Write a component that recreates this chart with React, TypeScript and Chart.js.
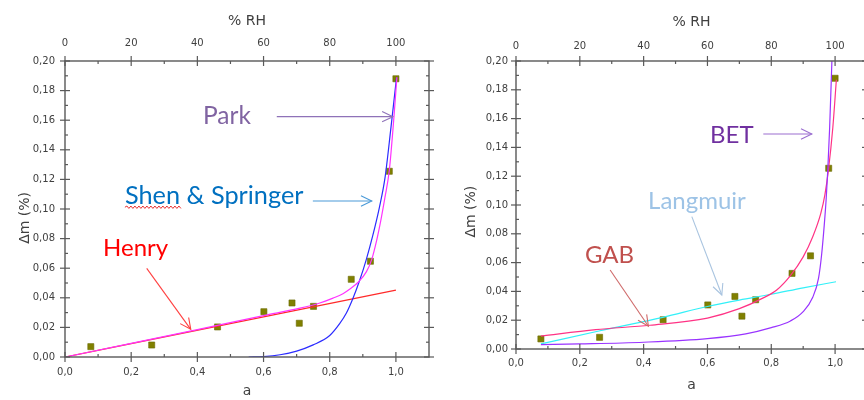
import React, { useEffect, useRef } from 'react';
import { Chart, registerables } from 'chart.js';

Chart.register(...registerables);

// ---- measured data (water activity a vs mass gain Δm %) ----
const A_OBS = [0.078, 0.262, 0.461, 0.601, 0.686, 0.708, 0.751, 0.865, 0.923, 0.98, 1.0];
const M_OBS = [0.007, 0.0081, 0.0203, 0.0306, 0.0365, 0.0228, 0.0342, 0.0525, 0.0647, 0.1255, 0.188];

// ---- left panel models ----
const HENRY_A = [0, 1.0];
const HENRY_M = [0, 0.0452];

const PARK_A = [0, 0.2, 0.4, 0.6, 0.71, 0.77, 0.81, 0.84, 0.86, 0.886, 0.911, 0.927, 0.942, 0.955, 0.967, 0.98, 0.994, 1.003];
const PARK_M = [0, 0.0092, 0.0185, 0.028, 0.033, 0.0365, 0.0398, 0.0428, 0.0458, 0.0505, 0.0577, 0.066, 0.079, 0.093, 0.108, 0.126, 0.162, 0.189];

const SHEN_A = [0.555, 0.6, 0.65, 0.7, 0.75, 0.8, 0.83, 0.85, 0.87, 0.89, 0.91, 0.93, 0.95, 0.967, 0.985, 1.002];
const SHEN_M = [0, 0.0003, 0.0015, 0.004, 0.0082, 0.0145, 0.0225, 0.0295, 0.0395, 0.0515, 0.0655, 0.082, 0.101, 0.121, 0.155, 0.189];

// ---- right panel models ----
const LANG_A = [0.078, 0.26, 0.46, 0.6, 0.7, 0.8, 0.9, 1.003];
const LANG_M = [0.0035, 0.0125, 0.022, 0.0295, 0.034, 0.038, 0.0425, 0.0467];

const GAB_A = [0.078, 0.25, 0.42, 0.6, 0.7, 0.775, 0.817, 0.86, 0.9, 0.93, 0.955, 0.968, 0.979, 0.993, 1.004];
const GAB_M = [0.009, 0.0135, 0.0165, 0.0215, 0.028, 0.0355, 0.041, 0.051, 0.064, 0.078, 0.094, 0.107, 0.124, 0.154, 0.187];

const BET_A = [0.078, 0.2, 0.4, 0.6, 0.72, 0.8, 0.86, 0.9, 0.93, 0.948, 0.958, 0.966, 0.972, 0.977, 0.983, 0.99];
const BET_M = [0.003, 0.0035, 0.0047, 0.0072, 0.0105, 0.0148, 0.0195, 0.026, 0.036, 0.049, 0.066, 0.086, 0.104, 0.124, 0.154, 0.2];

// ---- ticks ----
const Y_TICKS = [0, 0.02, 0.04, 0.06, 0.08, 0.1, 0.12, 0.14, 0.16, 0.18, 0.2];
const Y_MINOR = [0.01, 0.03, 0.05, 0.07, 0.09, 0.11, 0.13, 0.15, 0.17, 0.19];
const A_TICKS = [0, 0.2, 0.4, 0.6, 0.8, 1.0];
const A_MINOR = [0.1, 0.3, 0.5, 0.7, 0.9];
const RH_TICKS = [0, 20, 40, 60, 80, 100];
const RH_MINOR = [10, 30, 50, 70, 90];

const pts = (xs: number[], ys: number[]) => xs.map((x, i) => ({ x, y: ys[i] }));

const AXIS_COLOR = '#595959';

const framePlugin = {
  id: 'frame',
  afterDatasetsDraw(chart: any) {
    const { ctx, chartArea, scales } = chart;
    const { left, right, top, bottom } = chartArea;
    ctx.save();
    ctx.strokeStyle = AXIS_COLOR;
    ctx.lineWidth = 1.4;
    ctx.strokeRect(left, top, right - left, bottom - top);
    ctx.lineWidth = 1.2;
    const seg = (x1: number, y1: number, x2: number, y2: number) => {
      ctx.beginPath();
      ctx.moveTo(x1, y1);
      ctx.lineTo(x2, y2);
      ctx.stroke();
    };
    const MAJ = 5;
    const MIN = 3;
    Y_TICKS.forEach((v) => {
      const p = scales.y.getPixelForValue(v);
      seg(left - MAJ, p, left + MAJ, p);
      seg(right - MAJ, p, right + MAJ, p);
    });
    Y_MINOR.forEach((v) => {
      const p = scales.y.getPixelForValue(v);
      seg(left, p, left + MIN, p);
      seg(right - MIN, p, right, p);
    });
    A_TICKS.forEach((v) => {
      const p = scales.x.getPixelForValue(v);
      seg(p, bottom - MAJ, p, bottom + MAJ);
    });
    A_MINOR.forEach((v) => {
      const p = scales.x.getPixelForValue(v);
      seg(p, bottom - MIN, p, bottom);
    });
    RH_TICKS.forEach((v) => {
      const p = scales.x2.getPixelForValue(v);
      seg(p, top - MAJ, p, top + MAJ);
    });
    RH_MINOR.forEach((v) => {
      const p = scales.x2.getPixelForValue(v);
      seg(p, top, p, top + MIN);
    });
    ctx.restore();
  },
};

const notesPlugin = {
  id: 'notes',
  afterDraw(chart: any, _args: any, opts: any) {
    const { ctx, scales } = chart;
    const X = (a: number) => scales.x.getPixelForValue(a);
    const Y = (m: number) => scales.y.getPixelForValue(m);
    ctx.save();
    (opts.texts || []).forEach((t: any) => {
      ctx.font = `${t.size || 24}px Lato, "Open Sans", sans-serif`;
      ctx.fillStyle = t.color;
      ctx.textAlign = 'left';
      ctx.textBaseline = 'alphabetic';
      ctx.fillText(t.text, X(t.a), Y(t.m));
    });
    (opts.arrows || []).forEach((ar: any) => {
      const x1 = X(ar.a1), y1 = Y(ar.m1), x2 = X(ar.a2), y2 = Y(ar.m2);
      ctx.strokeStyle = ar.color;
      ctx.lineWidth = 1.1;
      ctx.beginPath();
      ctx.moveTo(x1, y1);
      ctx.lineTo(x2, y2);
      ctx.stroke();
      const ang = Math.atan2(y2 - y1, x2 - x1);
      const L = 12, W = 0.45;
      ctx.beginPath();
      ctx.moveTo(x2 - L * Math.cos(ang - W), y2 - L * Math.sin(ang - W));
      ctx.lineTo(x2, y2);
      ctx.lineTo(x2 - L * Math.cos(ang + W), y2 - L * Math.sin(ang + W));
      ctx.stroke();
    });
    (opts.squiggles || []).forEach((s: any) => {
      const x1 = X(s.a1), x2 = X(s.a2), y = Y(s.m);
      ctx.strokeStyle = '#e83030';
      ctx.lineWidth = 1;
      ctx.beginPath();
      let up = true;
      ctx.moveTo(x1, y);
      for (let x = x1 + 2; x <= x2; x += 2) {
        ctx.lineTo(x, y + (up ? -1.2 : 1.2));
        up = !up;
      }
      ctx.stroke();
    });
    ctx.restore();
  },
};

type Layout = {
  yWidth: number; topH: number; bottomH: number; padRight: number;
  yPad: number; bottomPad: number; topPad: number;
  aTitlePad: number; rhTitlePad: number; yTitlePad: number; yTitle: string;
};

const tickFont = { family: '"DejaVu Sans", sans-serif', size: 10 };
const titleFont = { family: '"DejaVu Sans", sans-serif', size: 14 };

function buildConfig(datasets: any[], layout: Layout, notes: any) {
  return {
    type: 'scatter',
    data: { datasets },
    options: {
      animation: false,
      responsive: false,
      events: [],
      layout: { padding: { left: 0, top: 0, bottom: 0, right: layout.padRight } },
      plugins: { legend: { display: false }, tooltip: { enabled: false }, notes },
      scales: {
        x: {
          type: 'linear', position: 'bottom', min: 0, max: 1.1,
          afterBuildTicks: (s: any) => { s.ticks = A_TICKS.map((value) => ({ value })); },
          afterFit: (s: any) => { s.height = layout.bottomH; },
          grid: { display: false, drawTicks: false },
          border: { display: false },
          ticks: {
            font: tickFont, color: '#404040', padding: layout.bottomPad, maxRotation: 0,
            callback: (v: number) => v.toFixed(1).replace('.', ','),
          },
          title: { display: true, text: 'a', font: titleFont, color: '#404040', padding: { top: 0, bottom: layout.aTitlePad } },
        },
        x2: {
          type: 'linear', position: 'top', min: 0, max: 110,
          afterBuildTicks: (s: any) => { s.ticks = RH_TICKS.map((value) => ({ value })); },
          afterFit: (s: any) => { s.height = layout.topH; },
          grid: { display: false, drawTicks: false },
          border: { display: false },
          ticks: { font: tickFont, color: '#404040', padding: layout.topPad, maxRotation: 0, callback: (v: number) => String(v) },
          title: { display: true, text: '% RH', font: titleFont, color: '#404040', padding: { top: layout.rhTitlePad, bottom: 0 } },
        },
        y: {
          type: 'linear', position: 'left', min: 0, max: 0.2,
          afterBuildTicks: (s: any) => { s.ticks = Y_TICKS.map((value) => ({ value })); },
          afterFit: (s: any) => { s.width = layout.yWidth; },
          grid: { display: false, drawTicks: false },
          border: { display: false },
          ticks: { font: tickFont, color: '#404040', padding: layout.yPad, callback: (v: number) => v.toFixed(2).replace('.', ',') },
          title: { display: true, text: layout.yTitle, font: titleFont, color: '#404040', padding: { top: layout.yTitlePad, bottom: 0 } },
        },
      },
    },
    plugins: [framePlugin, notesPlugin],
  };
}

const curve = (xs: number[], ys: number[], color: string) => ({
  data: pts(xs, ys),
  showLine: true,
  borderColor: color,
  backgroundColor: color,
  borderWidth: 1.2,
  pointRadius: 0,
  cubicInterpolationMode: 'monotone',
  fill: false,
});

const observed = () => ({
  data: pts(A_OBS, M_OBS),
  showLine: false,
  pointStyle: 'rect',
  pointRadius: 4.3,
  backgroundColor: '#808000',
  borderColor: '#6a6a00',
  borderWidth: 0.6,
});

const LEFT_LAYOUT: Layout = {
  yWidth: 65, topH: 61, bottomH: 43, padRight: 11,
  yPad: 10, bottomPad: 9, topPad: 12,
  aTitlePad: 0, rhTitlePad: 13, yTitlePad: 16.6, yTitle: 'Δm (%)    ',
};
const RIGHT_LAYOUT: Layout = {
  yWidth: 76, topH: 61, bottomH: 51, padRight: 13,
  yPad: 8, bottomPad: 8, topPad: 9,
  aTitlePad: 6.6, rhTitlePad: 14.3, yTitlePad: 23.3, yTitle: 'Δm (%)   ',
};

const LEFT_NOTES = {
  texts: [
    { text: 'Park', a: 0.417, m: 0.1574, color: '#8064a2', size: 24.5 },
    { text: 'Shen & Springer', a: 0.181, m: 0.1034, color: '#0070c0', size: 25.3 },
    { text: 'Henry', a: 0.115, m: 0.0682, color: '#ff0000', size: 24 },
  ],
  arrows: [
    { a1: 0.64, m1: 0.1624, a2: 0.991, m2: 0.1624, color: '#8e72b8' },
    { a1: 0.749, m1: 0.1054, a2: 0.927, m2: 0.1054, color: '#4a9ad8' },
    { a1: 0.247, m1: 0.0599, a2: 0.38, m2: 0.0187, color: '#ff4040' },
  ],
  squiggles: [{ a1: 0.181, a2: 0.355, m: 0.1012 }],
};
const RIGHT_NOTES = {
  texts: [
    { text: 'BET', a: 0.608, m: 0.1433, color: '#7030a0', size: 24 },
    { text: 'Langmuir', a: 0.414, m: 0.0972, color: '#9dc3e6', size: 24 },
    { text: 'GAB', a: 0.216, m: 0.0599, color: '#c0504d', size: 24 },
  ],
  arrows: [
    { a1: 0.775, m1: 0.1493, a2: 0.927, m2: 0.1493, color: '#9b6fd0' },
    { a1: 0.551, m1: 0.0919, a2: 0.645, m2: 0.0375, color: '#a9c4e0' },
    { a1: 0.295, m1: 0.0549, a2: 0.415, m2: 0.0158, color: '#cf6a6a' },
  ],
  squiggles: [],
};

function Panel({ left, width, config }: { left: number; width: number; config: () => any }) {
  const ref = useRef<HTMLCanvasElement | null>(null);
  useEffect(() => {
    if (!ref.current) return;
    const chart = new Chart(ref.current, config());
    return () => chart.destroy();
  }, []);
  return (
    <canvas
      ref={ref}
      width={width}
      height={400}
      style={{ position: 'absolute', left, top: 0, width, height: 400 }}
    />
  );
}

export default function App() {
  return (
    <div style={{ position: 'fixed', left: 0, top: 0, width: 864, height: 400, overflow: 'hidden', background: '#fff' }}>
      <Panel
        left={0}
        width={440}
        config={() =>
          buildConfig(
            [
              curve(PARK_A, PARK_M, '#ff33ff'),
              curve(SHEN_A, SHEN_M, '#2b2bff'),
              curve(HENRY_A, HENRY_M, '#ff2a2a'),
              observed(),
            ],
            LEFT_LAYOUT,
            LEFT_NOTES
          )
        }
      />
      <Panel
        left={440}
        width={440}
        config={() =>
          buildConfig(
            [
              curve(BET_A, BET_M, '#9933ff'),
              curve(GAB_A, GAB_M, '#ff3385'),
              curve(LANG_A, LANG_M, '#33f0f8'),
              observed(),
            ],
            RIGHT_LAYOUT,
            RIGHT_NOTES
          )
        }
      />
    </div>
  );
}
